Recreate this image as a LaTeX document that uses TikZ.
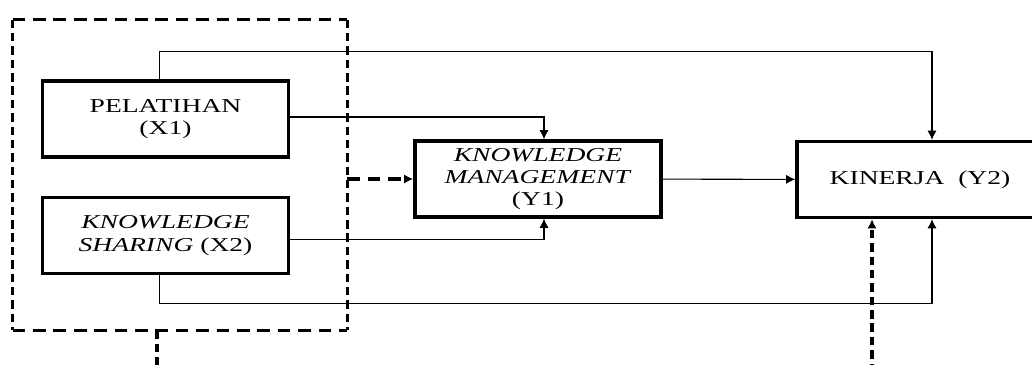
\documentclass[tikz,border=0pt]{standalone}
\usepackage{fontspec}
\setmainfont{Liberation Serif}[FakeStretch=1.4]
\usetikzlibrary{arrows.meta}
\begin{document}
\begin{tikzpicture}[x=0.025cm, y=-0.025cm, >={Latex[length=6.5pt,width=6.5pt]}]
    \tikzstyle{every node}=[font=\fontsize{14pt}{16pt}\selectfont]
    \tikzstyle{varbox}=[draw, line width=2.4pt, align=center, inner sep=0pt,
        minimum width=6.15cm, minimum height=1.9cm]
    \tikzstyle{group}=[minimum width=8.35cm, minimum height=7.75cm, inner sep=0pt]
    \tikzstyle{link}=[->, line width=0.75pt]
    \tikzstyle{hdash}=[line width=2.4pt, dash pattern=on 9pt off 5.5pt]
    \tikzstyle{vdash}=[line width=2.4pt, dash pattern=on 6pt off 3.5pt]

    \useasboundingbox (0,0) rectangle (1032,364);

    % Draw the variable boxes
    \node[varbox] (pel) at (165.5,119) {PELATIHAN\\(X1)};
    \node[varbox] (ks) at (165.5,235.5) {\textit{KNOWLEDGE}\\\textit{SHARING} (X2)};
    \node[varbox, font=\fontsize{14pt}{15.5pt}\selectfont] (km) at (538,179)
        {\textit{KNOWLEDGE}\\\textit{MANAGEMENT}\\(Y1)};
    \node[varbox] (kin) at (920,179.5) {KINERJA\ \ (Y2)};

    % Dashed group round X1 and X2
    \node[group] (grp) at (180,175) {};
    \draw[hdash] (grp.north west) -- (grp.north east);
    \draw[hdash] (grp.south west) -- (grp.south east);
    \draw[vdash] (grp.north west) -- (grp.south west);
    \draw[vdash] (grp.north east) -- (grp.south east);

    % Connect the variables
    \draw[link] ([xshift=-0.14cm]pel.north) -- ++(0,-28) -| ([xshift=0.3cm]kin.north);
    \draw[link] ([yshift=0.05cm]pel.east) -| ([xshift=0.15cm]km.north);
    \draw[link] ([yshift=-0.11cm]ks.east) -| ([xshift=0.15cm]km.south);
    \draw[link] ([xshift=-0.14cm]ks.south) -- ++(0,28) -| ([xshift=0.3cm]kin.south);
    \draw[link] (km) -- (kin);
    \draw[hdash, ->] (grp.east |- km.west) -- (km.west);

    % Dashed lines leaving the picture at the bottom
    \coordinate (out) at (157,372);
    \coordinate (in) at (872,372);
    \draw[vdash] (grp.south -| out) -- (out);
    \draw[vdash, ->] (in) -- (in |- kin.south);
\end{tikzpicture}
\end{document}
